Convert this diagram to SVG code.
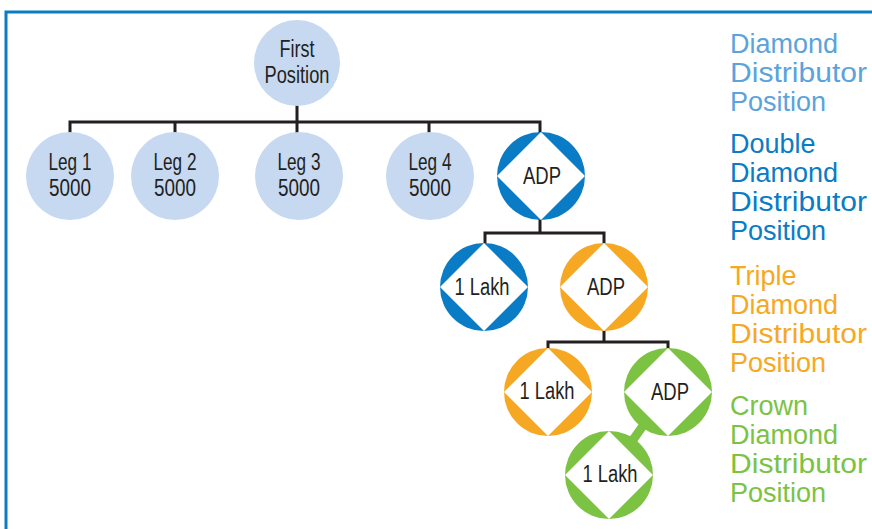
<svg xmlns="http://www.w3.org/2000/svg" width="872" height="529" viewBox="0 0 872 529">
<style>
.conn{fill:none;stroke:#231f20;stroke-width:3;stroke-linejoin:miter}
.lb{fill:#c6d9f0}
.nt{font-family:"Liberation Sans",Arial,sans-serif;font-size:23px;fill:#231f20;text-anchor:middle}
.dm{fill:#fff}
.blue{fill:#0a7cc5}
.orange{fill:#f7a823}
.green{fill:#7cc243}
.lg{font-family:"Liberation Sans",Arial,sans-serif;font-size:27px}
</style>
<rect x="0" y="0" width="872" height="529" fill="#fff"/>
<path d="M6,535 V12 H880" fill="none" stroke="#0a7cc5" stroke-width="3"/>
<g id="connectors">
<path class="conn" d="M297,100 V122 M70,134 V122 H540 V134 M175,122 V134 M297,122 V134 M429,122 V134"/>
<path class="conn" d="M540,218 V233 M485,244 V233 H604 V244"/>
<path class="conn" d="M604,328 V342 M548,350 V342 H668 V350"/>
<line x1="667" y1="392" x2="608" y2="475" stroke="#7cc243" stroke-width="9"/>
</g>
<g id="first"><circle class="lb" cx="297" cy="63" r="43"/><text class="nt" x="297" y="57" textLength="35" lengthAdjust="spacingAndGlyphs">First</text><text class="nt" x="297" y="83" textLength="65" lengthAdjust="spacingAndGlyphs">Position</text></g>
<g id="leg1"><circle class="lb" cx="70" cy="176" r="44"/><text class="nt" x="70" y="170" textLength="43" lengthAdjust="spacingAndGlyphs">Leg 1</text><text class="nt" x="70" y="196" textLength="42" lengthAdjust="spacingAndGlyphs">5000</text></g>
<g id="leg2"><circle class="lb" cx="175" cy="176" r="44"/><text class="nt" x="175" y="170" textLength="43" lengthAdjust="spacingAndGlyphs">Leg 2</text><text class="nt" x="175" y="196" textLength="42" lengthAdjust="spacingAndGlyphs">5000</text></g>
<g id="leg3"><circle class="lb" cx="299" cy="176" r="44"/><text class="nt" x="299" y="170" textLength="43" lengthAdjust="spacingAndGlyphs">Leg 3</text><text class="nt" x="299" y="196" textLength="42" lengthAdjust="spacingAndGlyphs">5000</text></g>
<g id="leg4"><circle class="lb" cx="430" cy="176" r="44"/><text class="nt" x="430" y="170" textLength="43" lengthAdjust="spacingAndGlyphs">Leg 4</text><text class="nt" x="430" y="196" textLength="42" lengthAdjust="spacingAndGlyphs">5000</text></g>
<g id="adp1"><circle class="blue" cx="541" cy="176" r="44"/><polygon class="dm" points="541,132 585,176 541,220 497,176"/><text class="nt" x="542" y="184" textLength="38" lengthAdjust="spacingAndGlyphs">ADP</text></g>
<g id="lakh1"><circle class="blue" cx="484" cy="287" r="44"/><polygon class="dm" points="484,243 528,287 484,331 440,287"/><text class="nt" x="482" y="295" textLength="55" lengthAdjust="spacingAndGlyphs">1 Lakh</text></g>
<g id="adp2"><circle class="orange" cx="604" cy="287" r="44"/><polygon class="dm" points="604,243 648,287 604,331 560,287"/><text class="nt" x="606" y="295" textLength="38" lengthAdjust="spacingAndGlyphs">ADP</text></g>
<g id="lakh2"><circle class="orange" cx="548" cy="392" r="44"/><polygon class="dm" points="548,348 592,392 548,436 504,392"/><text class="nt" x="547" y="399" textLength="55" lengthAdjust="spacingAndGlyphs">1 Lakh</text></g>
<g id="adp3"><circle class="green" cx="668" cy="392" r="44"/><polygon class="dm" points="668,348 712,392 668,436 624,392"/><text class="nt" x="670" y="400" textLength="38" lengthAdjust="spacingAndGlyphs">ADP</text></g>
<g id="lakh3"><circle class="green" cx="609" cy="475" r="44"/><polygon class="dm" points="609,431 653,475 609,519 565,475"/><text class="nt" x="610" y="482" textLength="55" lengthAdjust="spacingAndGlyphs">1 Lakh</text></g>
<g id="legend">
<text class="lg" fill="#5aa3dc"><tspan x="730" y="53">Diamond</tspan><tspan x="730" y="82" textLength="137" lengthAdjust="spacingAndGlyphs">Distributor</tspan><tspan x="730" y="111">Position</tspan></text>
<text class="lg" fill="#0a7cc5"><tspan x="730" y="153">Double</tspan><tspan x="730" y="182">Diamond</tspan><tspan x="730" y="211" textLength="137" lengthAdjust="spacingAndGlyphs">Distributor</tspan><tspan x="730" y="240">Position</tspan></text>
<text class="lg" fill="#f7a823"><tspan x="730" y="285">Triple</tspan><tspan x="730" y="314">Diamond</tspan><tspan x="730" y="343" textLength="137" lengthAdjust="spacingAndGlyphs">Distributor</tspan><tspan x="730" y="372">Position</tspan></text>
<text class="lg" fill="#7cc243"><tspan x="730" y="415">Crown</tspan><tspan x="730" y="444">Diamond</tspan><tspan x="730" y="473" textLength="137" lengthAdjust="spacingAndGlyphs">Distributor</tspan><tspan x="730" y="502">Position</tspan></text>
</g>
</svg>
